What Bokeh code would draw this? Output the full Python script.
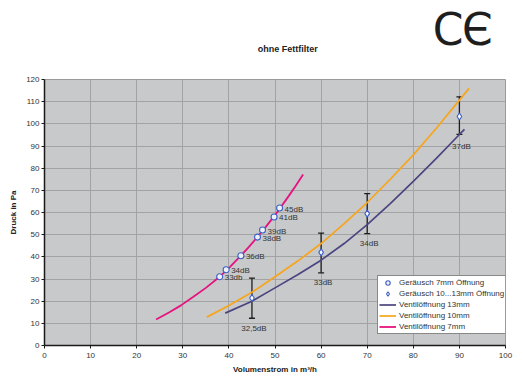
from bokeh.plotting import figure
from bokeh.layouts import column
from bokeh.models import (Legend, LegendItem, Whisker, TeeHead, ColumnDataSource,
                          FixedTicker)
from bokeh.core.properties import value
from bokeh.embed import file_html
from bokeh.resources import INLINE

# ---- data ----
# Ventilöffnung 7mm (pink curve)
v7_x = [24.2, 27.0, 29.6, 32.3, 35.0, 38.0, 40.3, 42.6, 44.3, 46.0, 48.0, 50.0, 53.0, 54.5, 56.1]
v7_y = [11.7, 14.9, 18.1, 22.0, 26.0, 31.0, 35.6, 40.5, 44.4, 48.5, 53.5, 58.8, 67.5, 72.1, 77.1]
# Ventilöffnung 10mm (orange curve)
v10_x = [35.2, 40.0, 45.0, 50.0, 55.0, 60.0, 65.0, 70.0, 75.0, 80.0, 85.0, 90.0, 92.1]
v10_y = [12.8, 18.0, 24.0, 31.0, 38.2, 46.0, 55.0, 64.5, 75.0, 86.0, 98.0, 110.7, 116.0]
# Ventilöffnung 13mm (purple curve)
v13_x = [39.2, 45.0, 50.0, 55.0, 60.0, 65.0, 70.0, 75.0, 80.0, 85.0, 90.0, 91.1]
v13_y = [14.6, 20.0, 26.0, 32.0, 38.5, 46.0, 54.5, 64.0, 74.0, 84.4, 95.2, 97.5]
# Geräusch 7mm Öffnung (circles)
g7_x = [38.0, 39.4, 42.6, 46.2, 47.3, 49.8, 51.0]
g7_y = [31.0, 34.2, 40.5, 48.9, 52.1, 58.0, 62.0]
g7_lbl = ["33db", "34dB", "36dB", "38dB", "39dB", "41dB", "45dB"]
# Geräusch 10...13mm Öffnung (diamonds with error bars)
g13_x = [45, 60, 70, 90]
g13_y = [21.4, 42.0, 59.5, 103.3]
g13_lo = [12.3, 32.8, 50.5, 95.2]
g13_hi = [30.4, 50.7, 68.5, 112.2]
g13_lbl = ["32,5dB", "33dB", "34dB", "37dB"]

x_ticks = list(range(0, 101, 10))
y_ticks = list(range(0, 121, 10))

title_text = "ohne Fettfilter"
x_label = "Volumenstrom in m³/h"
y_label = "Druck in Pa"

FONT = "Liberation Sans"

# ---- header (title + CE mark) ----
W = 523
HH = 60
hdr = figure(width=W, height=HH, x_range=(0, W), y_range=(HH, 0),
             output_backend="svg", toolbar_location=None,
             x_axis_location=None, y_axis_location=None,
             min_border=0, min_border_left=0, min_border_right=0,
             min_border_top=0, min_border_bottom=0)
hdr.grid.visible = False
hdr.outline_line_color = None
hdr.background_fill_color = "white"
hdr.border_fill_color = "white"
hdr.text([276], [48], text=[title_text], text_align="center", text_baseline="middle",
         text_font=value(FONT), text_font_size="9px", text_font_style="bold",
         text_color="#222222")
hdr.text([458, 491], [29, 29], text=["C", "Є"], text_align="center",
         text_baseline="middle", text_font=value("DejaVu Sans"),
         text_font_size="44px", text_color="#1e1e1e")

# ---- main chart ----
p = figure(width=W, height=376 - HH, x_range=(0, 100), y_range=(0, 120),
           output_backend="svg", toolbar_location=None,
           min_border_left=44, min_border_right=18, min_border_top=79 - HH,
           min_border_bottom=31)
p.background_fill_color = "#c8c9cb"
p.border_fill_color = "white"
p.outline_line_color = "#9a9a9a"
p.outline_line_width = 1

for ax in (p.xaxis, p.yaxis):
    ax.axis_line_color = "#1a1a1a"
    ax.axis_line_width = 1.5
    ax.major_tick_line_color = "#1a1a1a"
    ax.major_tick_out = 3
    ax.major_tick_in = 0
    ax.minor_tick_line_color = None
    ax.major_label_text_font = FONT
    ax.major_label_text_font_size = "8px"
    ax.major_label_text_color = "#333333"
    ax.axis_label_text_font = FONT
    ax.axis_label_text_font_size = "8px"
    ax.axis_label_text_font_style = "bold"
    ax.axis_label_text_color = "#222222"
p.xaxis.ticker = FixedTicker(ticks=x_ticks)
p.yaxis.ticker = FixedTicker(ticks=y_ticks)
p.xaxis.major_label_standoff = 4
p.yaxis.major_label_standoff = 2
p.xaxis.axis_label = x_label
p.yaxis.axis_label = y_label
p.xaxis.axis_label_standoff = 4
p.yaxis.axis_label_standoff = 5

p.grid.grid_line_color = "#a3a3a3"
p.grid.grid_line_width = 1
p.xgrid.ticker = FixedTicker(ticks=x_ticks)
p.ygrid.ticker = FixedTicker(ticks=y_ticks)

# curves
r13 = p.line(v13_x, v13_y, line_color="#4b4580", line_width=1.7)
r10 = p.line(v10_x, v10_y, line_color="#f7a51c", line_width=1.7)
r7 = p.line(v7_x, v7_y, line_color="#e5127f", line_width=1.8)

# error bars
src13 = ColumnDataSource(dict(x=g13_x, y=g13_y, lo=g13_lo, hi=g13_hi, t=g13_lbl))
wh = Whisker(base="x", upper="hi", lower="lo", source=src13, dimension="height",
             line_color="#1e1e1e", line_width=1.3,
             upper_head=TeeHead(size=6, line_color="#1e1e1e", line_width=1.3),
             lower_head=TeeHead(size=6, line_color="#1e1e1e", line_width=1.3))
p.add_layout(wh)

rc = p.scatter(g7_x, g7_y, marker="circle", size=6, line_color="#3d60c4",
               fill_color="#eef1f8", line_width=1.1)
rd = p.scatter("x", "y", source=src13, marker="diamond", size=7, line_color="#3d60c4",
               fill_color="white", line_width=1.1)

# point labels
p.text(g7_x, g7_y, text=g7_lbl, x_offset=5, y_offset=1, text_baseline="middle",
       text_align="left", text_font=value(FONT), text_font_size="8px",
       text_color="#333333")
p.text("x", "y", source=src13, text="t", x_offset=2, y_offset=30, text_baseline="middle",
       text_align="center", text_font=value(FONT), text_font_size="8px",
       text_color="#333333")

legend = Legend(items=[
    LegendItem(label="Geräusch 7mm Öffnung", renderers=[rc]),
    LegendItem(label="Geräusch 10...13mm Öffnung", renderers=[rd]),
    LegendItem(label="Ventilöffnung 13mm", renderers=[r13]),
    LegendItem(label="Ventilöffnung 10mm", renderers=[r10]),
    LegendItem(label="Ventilöffnung 7mm", renderers=[r7]),
], location=(333, 11))
legend.padding = 1
legend.spacing = 0
legend.margin = 0
legend.label_height = 11
legend.glyph_height = 11
legend.glyph_width = 17
legend.label_standoff = 3
legend.label_text_font = FONT
legend.label_text_font_size = "8px"
legend.label_text_color = "#333333"
legend.border_line_color = "#111111"
legend.border_line_width = 1
legend.background_fill_color = "white"
legend.background_fill_alpha = 1
p.add_layout(legend)

layout = column(hdr, p, spacing=0)
open("out.html", "w").write(file_html(layout, INLINE))
